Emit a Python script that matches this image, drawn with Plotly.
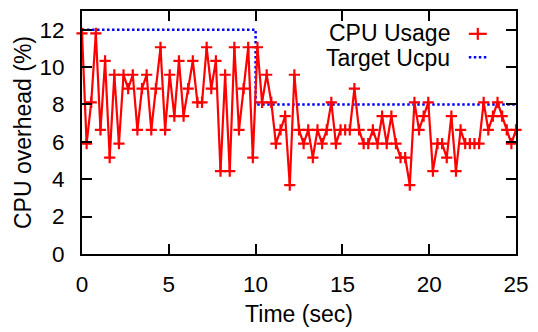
import plotly.graph_objects as go

# CPU usage samples (percent), one every 25/94 s over the 25 s run
cpu_usage = [
    11.80, 5.90, 8.11, 11.80, 6.64, 10.33, 5.16, 9.59, 5.90, 9.59,
    8.85, 9.59, 6.64, 8.85, 9.59, 6.64, 8.85, 11.06, 6.64, 9.59,
    7.38, 10.33, 7.38, 8.85, 10.33, 8.11, 8.11, 11.06, 8.85, 10.33,
    4.43, 9.59, 4.43, 11.06, 6.64, 8.85, 11.06, 5.16, 11.06, 8.11,
    9.59, 8.11, 5.90, 6.64, 7.38, 3.69, 9.59, 6.64, 5.90, 6.64,
    5.16, 6.64, 5.90, 6.64, 8.11, 5.90, 6.64, 6.64, 6.64, 8.85,
    6.64, 5.90, 5.90, 6.64, 5.90, 7.38, 5.90, 7.38, 5.90, 5.16,
    5.16, 3.69, 8.11, 6.64, 7.38, 8.11, 4.43, 5.90, 5.90, 5.16,
    7.38, 4.43, 6.64, 5.90, 5.90, 5.90, 5.90, 8.11, 6.64, 7.38,
    8.11, 7.38, 6.64, 5.90, 6.64,
]
sample_period = 25 / 94
time_sec = [i * sample_period for i in range(len(cpu_usage))]

# Target CPU utilisation: 12 % for the first 10 s, then 8 %
target_time = [0, 10, 10, 25]
target_ucpu = [12, 12, 8, 8]

x_ticks = [0, 5, 10, 15, 20, 25]
y_ticks = [0, 2, 4, 6, 8, 10, 12]

FONT = "Liberation Sans, Arial, Helvetica, sans-serif"
RED = "#ff0000"
BLUE = "#0000ff"

fig = go.Figure()

fig.add_trace(go.Scatter(
    x=target_time, y=target_ucpu, mode="lines", name="Target Ucpu",
    line=dict(color=BLUE, width=2.5, dash="2.5px,2.5px"),
    showlegend=False,
))
fig.add_trace(go.Scatter(
    x=time_sec, y=cpu_usage, mode="lines+markers", name="CPU Usage",
    line=dict(color=RED, width=2.2),
    marker=dict(symbol="cross-thin", size=8, color=RED,
                line=dict(color=RED, width=2.2)),
    cliponaxis=False, showlegend=False,
))

axis_common = dict(
    showline=True, linecolor="black", linewidth=2, mirror="allticks",
    ticks="inside", ticklen=10, tickwidth=1.5, tickcolor="black",
    showgrid=False, zeroline=False,
    tickfont=dict(family=FONT, size=22.5, color="black"),
)

fig.update_xaxes(
    range=[0, 25], tickvals=x_ticks, ticklabelstandoff=9,
    title=dict(text="Time (sec)", font=dict(family=FONT, size=23, color="black"),
               standoff=10),
    **axis_common,
)
fig.update_yaxes(
    range=[0, 13], tickvals=y_ticks, ticklabelstandoff=11,
    title=dict(text="CPU overhead (%)", font=dict(family=FONT, size=23, color="black"),
               standoff=1),
    **axis_common,
)

# Key in the top-right corner: labels on the left, samples on the right
key_font = dict(family=FONT, size=23, color="black")
key_rows = [("CPU Usage", 0.908), ("Target Ucpu", 0.808)]
for label, ypos in key_rows:
    fig.add_annotation(x=0.853, y=ypos, xref="paper", yref="paper",
                       text=label, showarrow=False, xanchor="right",
                       yanchor="middle", font=key_font)

sample_x = 0.912
fig.add_shape(type="line", xref="paper", yref="paper", xsizemode="pixel",
              xanchor=sample_x, x0=-9, x1=9, y0=0.906, y1=0.906,
              line=dict(color=RED, width=2.2))
fig.add_shape(type="line", xref="paper", yref="paper", xsizemode="pixel",
              ysizemode="pixel", xanchor=sample_x, yanchor=0.906,
              x0=0, x1=0, y0=-6, y1=6, line=dict(color=RED, width=2.2))
fig.add_shape(type="line", xref="paper", yref="paper", xsizemode="pixel",
              xanchor=sample_x, x0=-9, x1=9, y0=0.810, y1=0.810,
              line=dict(color=BLUE, width=2.5, dash="2.5px,2.5px"))

fig.update_layout(
    width=538, height=332,
    margin=dict(l=82, r=16, t=9, b=73),
    paper_bgcolor="white", plot_bgcolor="white",
    font=dict(family=FONT, color="black"),
)

fig.write_html("out.html")
